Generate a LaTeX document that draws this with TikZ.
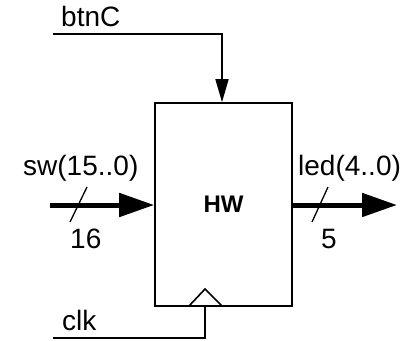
\documentclass[tikz,border=0pt]{standalone}
\usepackage{fontspec}
\setmainfont{Liberation Sans}
\usetikzlibrary{arrows.meta}
\begin{document}
\begin{tikzpicture}[x=1pt,y=-1pt,
  lbl/.style={inner sep=0pt,font=\fontsize{28}{28}\selectfont},
  thin/.style={line width=1.6pt},
  bus/.style={line width=5pt,-{Triangle[length=35pt,width=23pt]}},
  ctl/.style={line width=1.6pt,-{Triangle[length=23pt,width=13pt]}},
  slash/.style={line width=1.3pt}]
\useasboundingbox (0,0) rectangle (403,340);
\node[draw,line width=1.6pt,minimum width=137pt,minimum height=203pt,inner sep=0pt,
  font=\fontsize{24}{24}\selectfont\bfseries] (hw) at (223.5,204.5) {HW};
% btnC
\coordinate (bs) at (53,34);
\coordinate (bc) at (222,34);
\draw[ctl] (bs) -- (bc) -- (bc |- hw.north);
\node[lbl,anchor=base west] (btnc) at (61,26) {btnC};
% clock
\coordinate (ks) at (53,338);
\coordinate (kc) at (205,338);
\coordinate (kl) at (189,306);
\coordinate (kr) at (222,306);
\coordinate (ka) at (205,289);
\draw[thin] (ks) -- (kc) -- (kc |- hw.south);
\draw[thin,line join=miter] (kl) -- (ka) -- (kr);
\node[lbl,anchor=base west] (clk) at (62,330) {clk};
% sw
\coordinate (ss) at (50,205);
\draw[bus] (ss) -- (ss -| hw.west);
\coordinate (s1) at (70,222);
\coordinate (s2) at (87,187);
\draw[slash] (s1) -- (s2);
\node[lbl,anchor=base west] (sw) at (23,175) {sw(15..0)};
\node[lbl,anchor=base west] (n16) at (70,248) {16};
% led
\coordinate (le) at (397,205);
\draw[bus] (le -| hw.east) -- (le);
\coordinate (l1) at (312,222);
\coordinate (l2) at (328,187);
\draw[slash] (l1) -- (l2);
\node[lbl,anchor=base west] (led) at (298,175) {led(4..0)};
\node[lbl,anchor=base west] (n5) at (321,248) {5};
\end{tikzpicture}
\end{document}
